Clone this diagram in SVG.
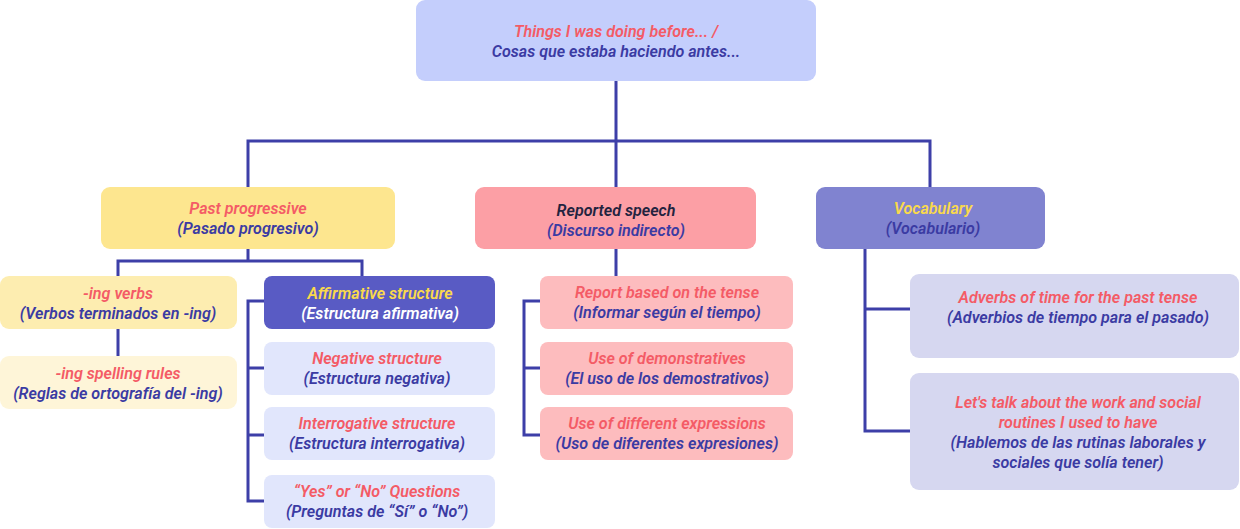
<svg xmlns="http://www.w3.org/2000/svg" width="1240" height="529" viewBox="0 0 1240 529">
<style>
text{font-family:Roboto,"Noto Sans","Liberation Sans",sans-serif;font-style:italic;font-weight:600;font-size:16.1px;text-anchor:middle}
.r{fill:#f45b66}.b{fill:#3b3ba3}.y{fill:#f9d94c}.w{fill:#ffffff}.k{fill:#23233f}
.c{fill:none;stroke:#3d3fa8;stroke-width:3}
</style>
<rect width="1240" height="529" fill="#ffffff"/>
<g id="connectors">
<path class="c" d="M616 80V276M248 188V141H930V188"/>
<path class="c" d="M248 248V261M118 276V261H362V276M118 328V356"/>
<path class="c" d="M264 301H248V501H264M248 368H264M248 435H264"/>
<path class="c" d="M540 301H524V435H540M524 368H540"/>
<path class="c" d="M865 248V431H910M865 309H910"/>
</g>
<g id="root"><rect x="416" y="0" width="400" height="81" rx="9" fill="#c4cefc"/>
<text x="616" y="37" class="r">Things I was doing before... /</text><text x="616" y="57" class="b">Cosas que estaba haciendo antes...</text></g>
<g id="past"><rect x="101" y="187" width="294" height="62" rx="9" fill="#fde68f"/>
<text x="248" y="214" class="r">Past progressive</text><text x="248" y="234" class="b">(Pasado progresivo)</text></g>
<g id="reported"><rect x="475" y="187" width="281" height="62" rx="9" fill="#fc9fa5"/>
<text x="616" y="216" class="k">Reported speech</text><text x="616" y="236" class="b">(Discurso indirecto)</text></g>
<g id="vocab"><rect x="816" y="187" width="229" height="62" rx="9" fill="#8083d0"/>
<text x="933" y="214" class="y">Vocabulary</text><text x="933" y="234" class="b">(Vocabulario)</text></g>
<g id="ingverbs"><rect x="0" y="276" width="237" height="53" rx="9" fill="#fdedb0"/>
<text x="118" y="299" class="r">-ing verbs</text><text x="118" y="319" class="b">(Verbos terminados en -ing)</text></g>
<g id="spelling"><rect x="0" y="356" width="237" height="53" rx="9" fill="#fef5d8"/>
<text x="118" y="379" class="r">-ing spelling rules</text><text x="118" y="399" class="b">(Reglas de ortografía del -ing)</text></g>
<g id="affirm"><rect x="264" y="276" width="231" height="53" rx="8" fill="#595bc4"/>
<text x="380" y="299" class="y">Affirmative structure</text><text x="380" y="319" class="w">(Estructura afirmativa)</text></g>
<g id="neg"><rect x="264" y="342" width="231" height="53" rx="8" fill="#e1e6fc"/>
<text x="377" y="364" class="r">Negative structure</text><text x="377" y="384" class="b">(Estructura negativa)</text></g>
<g id="interr"><rect x="264" y="407" width="231" height="53" rx="8" fill="#e1e6fc"/>
<text x="377" y="429" class="r">Interrogative structure</text><text x="377" y="449" class="b">(Estructura interrogativa)</text></g>
<g id="yesno"><rect x="264" y="475" width="231" height="53" rx="8" fill="#e1e6fc"/>
<text x="377" y="497" class="r">“Yes” or “No” Questions</text><text x="377" y="517" class="b">(Preguntas de “Sí” o “No”)</text></g>
<g id="tense"><rect x="540" y="276" width="253" height="53" rx="8" fill="#fdbcbe"/>
<text x="667" y="298" class="r">Report based on the tense</text><text x="667" y="318" class="b">(Informar según el tiempo)</text></g>
<g id="demo"><rect x="540" y="342" width="253" height="53" rx="8" fill="#fdbcbe"/>
<text x="667" y="364" class="r">Use of demonstratives</text><text x="667" y="384" class="b">(El uso de los demostrativos)</text></g>
<g id="expr"><rect x="540" y="407" width="253" height="53" rx="8" fill="#fdbcbe"/>
<text x="667" y="429" class="r">Use of different expressions</text><text x="667" y="449" class="b">(Uso de diferentes expresiones)</text></g>
<g id="adverbs"><rect x="910" y="274" width="329" height="84" rx="9" fill="#d6d7f0"/>
<text x="1078" y="303" class="r">Adverbs of time for the past tense</text><text x="1078" y="323" class="b">(Adverbios de tiempo para el pasado)</text></g>
<g id="routines"><rect x="910" y="373" width="329" height="117" rx="9" fill="#d6d7f0"/>
<text x="1078" y="408" class="r">Let's talk about the work and social</text><text x="1078" y="428" class="r">routines I used to have</text>
<text x="1078" y="448" class="b">(Hablemos de las rutinas laborales y</text><text x="1078" y="468" class="b">sociales que solía tener)</text></g>
</svg>
